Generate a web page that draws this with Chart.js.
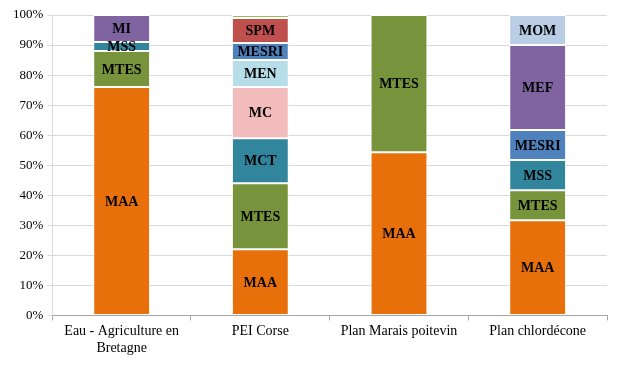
<!DOCTYPE html>
<html>
<head>
<meta charset="utf-8">
<script src="https://cdn.jsdelivr.net/npm/chart.js@4/dist/chart.umd.min.js"></script>
<style>
html,body{margin:0;padding:0;background:#fff;}
#wrap{width:617px;height:366px;}
</style>
</head>
<body>
<div id="wrap"><canvas id="chart" width="617" height="366"></canvas></div>
<script>
// categories
const plans = [["Eau - Agriculture en", "Bretagne"], "PEI Corse", "Plan Marais poitevin", "Plan chlordécone"];

// share (%) of each ministry per plan, null = absent
const maa   = [76, 22, 54.3, 31.7];
const mtes  = [12, 22, 45.7, 10];
const mss   = [3, null, null, 10];
const mct   = [null, 15, null, null];
const mc    = [null, 17, null, null];
const men   = [null, 9, null, null];
const mesri = [null, 5.7, null, 10];
const spm   = [null, 8.3, null, null];
const other = [null, 1, null, null];
const mi    = [9, null, null, null];
const mef   = [null, null, null, 28.3];
const mom   = [null, null, null, 10];

const yTicks = [0, 10, 20, 30, 40, 50, 60, 70, 80, 90, 100];

function ds(label, data, color, showLabel){
  return {label: label, data: data, backgroundColor: color, borderColor: "#fff",
          borderWidth: 1, borderSkipped: false, showLabel: showLabel};
}

// draw the ministry names in the middle of each segment
const segLabels = {
  id: "segLabels",
  afterDatasetsDraw(chart){
    const c = chart.ctx;
    c.save();
    c.font = "bold 14px 'Liberation Serif', serif";
    c.fillStyle = "#000";
    c.textAlign = "center";
    c.textBaseline = "middle";
    chart.data.datasets.forEach((d, i) => {
      if(!d.showLabel) return;
      chart.getDatasetMeta(i).data.forEach((bar, j) => {
        if(d.data[j] == null) return;
        c.fillText(d.label, bar.x, (bar.y + bar.base)/2 + 1);
      });
    });
    c.restore();
  }
};

new Chart(document.getElementById("chart"), {
  type: "bar",
  data: {
    labels: plans,
    datasets: [
      ds("MAA", maa, "#E8700B", true),
      ds("MTES", mtes, "#77933C", true),
      ds("MSS", mss, "#31859C", true),
      ds("MCT", mct, "#31859C", true),
      ds("MC", mc, "#F2BCBC", true),
      ds("MEN", men, "#B7DEE8", true),
      ds("MESRI", mesri, "#4F81BD", true),
      ds("SPM", spm, "#C0504D", true),
      ds("", other, "#9BBB59", false),
      ds("MI", mi, "#8064A2", true),
      ds("MEF", mef, "#8064A2", true),
      ds("MOM", mom, "#B9CDE5", true)
    ]
  },
  options: {
    responsive: false,
    animation: false,
    layout: {padding: {top: 15, right: 10, left: 9, bottom: 6}},
    datasets: {bar: {categoryPercentage: 1, barPercentage: 0.41}},
    plugins: {legend: {display: false}, tooltip: {enabled: false}},
    scales: {
      x: {
        stacked: true,
        border: {color: "#A6A6A6"},
        grid: {offset: true, drawOnChartArea: false, color: "#A6A6A6", tickLength: 5},
        ticks: {color: "#000", font: {family: "'Liberation Serif', serif", size: 14}, padding: 3, maxRotation: 0}
      },
      y: {
        stacked: true,
        min: 0, max: 100,
        afterBuildTicks(axis){ axis.ticks = yTicks.map(v => ({value: v})); },
        border: {color: "#D9D9D9"},
        grid: {color: "#D9D9D9", tickLength: 5},
        ticks: {color: "#000", font: {family: "'Liberation Serif', serif", size: 13}, padding: 4,
                callback: v => v + "%"}
      }
    }
  },
  plugins: [segLabels]
});
</script>
</body>
</html>
